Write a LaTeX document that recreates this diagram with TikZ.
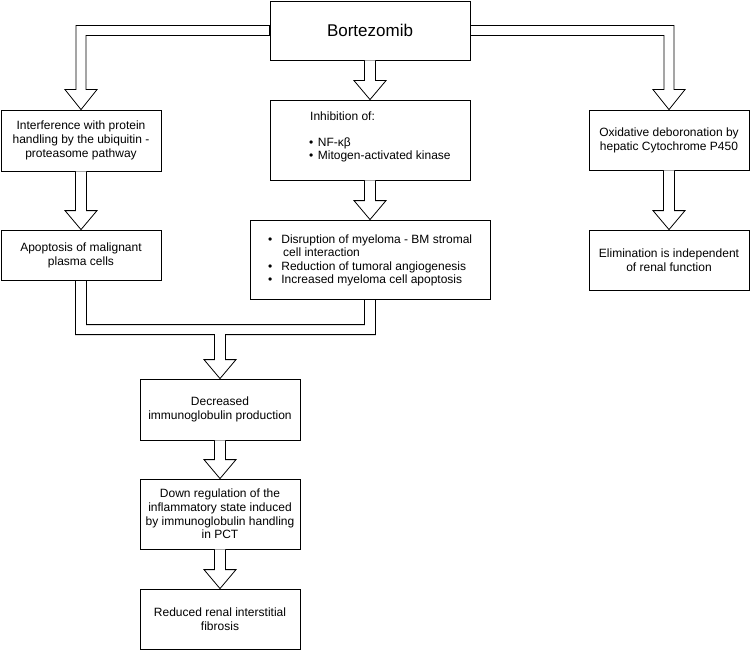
\documentclass[tikz,border=0pt]{standalone}
\usepackage{fontspec}
\setmainfont{Liberation Sans}
\usetikzlibrary{calc}
\newcommand\vflex[2]{%
  \draw[flex] let \p1=(#1.south), \p2=(#2.north) in
    (\x2-5.5pt,\y1) -- (\x2-5.5pt,\y2+19pt) -- (\x2-16pt,\y2+19pt) -- (\p2)
    -- (\x2+16pt,\y2+19pt) -- (\x2+5.5pt,\y2+19pt) -- (\x2+5.5pt,\y1);}
\begin{document}
\begin{tikzpicture}[x=1pt,y=-1pt,
  box/.style={draw, line width=0.8pt, fill=white, inner sep=0pt, align=center,
              font=\fontsize{12}{13.8}\selectfont},
  flex/.style={draw, line width=0.8pt, fill=white, line join=miter},
  txt/.style={inner sep=0pt, font=\fontsize{12}{13.8}\selectfont}]
\useasboundingbox (0,0) rectangle (750,650);

% boxes
\node[box, minimum width=200pt, minimum height=59pt, font=\fontsize{17}{20}\selectfont] (bort) at (370,30.5) {Bortezomib};
\node[box, minimum width=160pt, minimum height=61pt] (interf) at (81,140.5) {Interference with protein\\handling by the ubiquitin -\\proteasome pathway};
\node[box, minimum width=200pt, minimum height=80pt] (inhib) at (370,140) {};
\node[box, minimum width=160pt, minimum height=60pt] (oxid) at (669,140) {Oxidative deboronation by\\hepatic Cytochrome P450};
\node[box, minimum width=160pt, minimum height=50pt] (apopt) at (81,255) {Apoptosis of malignant\\plasma cells};
\node[box, minimum width=240pt, minimum height=79pt] (disrupt) at (370,259.5) {};
\node[box, minimum width=160pt, minimum height=60pt] (elim) at (669,260) {Elimination is independent\\of renal function};
\node[box, minimum width=160pt, minimum height=61pt] (decr) at (220,409.5) {Decreased\\immunoglobulin production};
\node[box, minimum width=160pt, minimum height=70pt] (down) at (220,514) {Down regulation of the\\inflammatory state induced\\by immunoglobulin handling\\in PCT};
\node[box, minimum width=160pt, minimum height=60pt] (reduced) at (220,619) {Reduced renal interstitial\\fibrosis};

% texts of the bullet boxes
\node[txt, anchor=base west] (inh0) at (310,121) {Inhibition of:};
\node[txt, anchor=base west] (inh1) at (309,146.5) {\textbullet\hspace{4.5pt}NF-κβ};
\node[txt, anchor=base west] (inh2) at (309,159.5) {\textbullet\hspace{4.5pt}Mitogen-activated kinase};

\node[txt, anchor=base west] (dis1) at (268,243.5) {\textbullet\hspace{9pt}Disruption of myeloma - BM stromal};
\node[txt, anchor=base west] (dis2) at (283,256.5) {cell interaction};
\node[txt, anchor=base west] (dis3) at (268,270) {\textbullet\hspace{9pt}Reduction of tumoral angiogenesis};
\node[txt, anchor=base west] (dis4) at (268,283.5) {\textbullet\hspace{9pt}Increased myeloma cell apoptosis};

% elbow arrows from Bortezomib
\draw[flex] let \p1=(bort.west), \p2=(interf.north) in
  (\x1,\y1+5pt) -- (\x2-5pt,\y1+5pt) -- (\x2-5pt,\y2+20pt) -- (\x2-16pt,\y2+20pt) -- (\p2)
  -- (\x2+16pt,\y2+20pt) -- (\x2+5pt,\y2+20pt) -- (\x2+5pt,\y1-5pt) -- (\x1,\y1-5pt) -- cycle;
\draw[flex] let \p1=(bort.east), \p2=(oxid.north) in
  (\x1,\y1+5pt) -- (\x2+5pt,\y1+5pt) -- (\x2+5pt,\y2+20pt) -- (\x2+16pt,\y2+20pt) -- (\p2)
  -- (\x2-16pt,\y2+20pt) -- (\x2-5pt,\y2+20pt) -- (\x2-5pt,\y1-5pt) -- (\x1,\y1-5pt) -- cycle;

% straight arrows
\vflex{bort}{inhib}
\vflex{interf}{apopt}
\vflex{inhib}{disrupt}
\vflex{oxid}{elim}
\vflex{decr}{down}
\vflex{down}{reduced}

% merging arrow
\draw[flex] let \p1=(apopt.south), \p2=(disrupt.south), \p3=(decr.north) in
  (\x1-5.5pt,\y1) -- (\x1-5.5pt,\y3+44pt) -- (\x3-5.5pt,\y3+44pt) -- (\x3-5.5pt,\y3+19pt)
  -- (\x3-16pt,\y3+19pt) -- (\p3) -- (\x3+16pt,\y3+19pt) -- (\x3+5.5pt,\y3+19pt)
  -- (\x3+5.5pt,\y3+44pt) -- (\x2+5.5pt,\y3+44pt) -- (\x2+5.5pt,\y2) -- (\x2-5.5pt,\y2)
  -- (\x2-5.5pt,\y3+54pt) -- (\x1+5.5pt,\y3+54pt) -- (\x1+5.5pt,\y1) -- cycle;
\end{tikzpicture}
\end{document}
